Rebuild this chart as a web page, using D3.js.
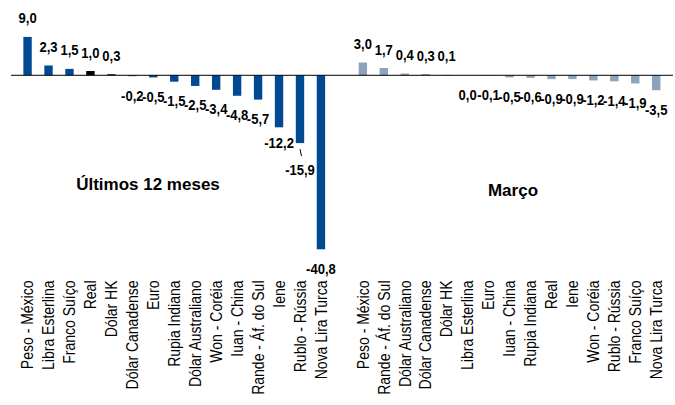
<!DOCTYPE html>
<html>
<head>
<meta charset="utf-8">
<script src="https://cdn.jsdelivr.net/npm/d3@7"></script>
<style>
  html, body { margin: 0; padding: 0; background: #fff; }
  svg { display: block; }
  text { font-family: "Liberation Sans", Arial, Helvetica, sans-serif; }
</style>
</head>
<body>
<svg id="chart" width="675" height="405"></svg>
<script>
// Variação cambial frente ao dólar (%)
const yearCategories = ["Peso - México", "Libra Esterlina", "Franco Suíço", "Real", "Dólar HK",
  "Dólar Canadense", "Euro", "Rupia Indiana", "Dólar Australiano", "Won - Coréia",
  "Iuan - China", "Rande - Áf. do Sul", "Iene", "Rublo - Rússia", "Nova Lira Turca"];
const yearValues = [9.0, 2.3, 1.5, 1.0, 0.3, -0.2, -0.5, -1.5, -2.5, -3.4, -4.8, -5.7, -12.2, -15.9, -40.8];

const monthCategories = ["Peso - México", "Rande - Áf. do Sul", "Dólar Australiano", "Dólar Canadense",
  "Dólar HK", "Libra Esterlina", "Euro", "Iuan - China", "Rupia Indiana", "Real", "Iene",
  "Won - Coréia", "Rublo - Rússia", "Franco Suíço", "Nova Lira Turca"];
const monthValues = [3.0, 1.7, 0.4, 0.3, 0.1, 0.0, -0.1, -0.5, -0.6, -0.9, -0.9, -1.2, -1.4, -1.9, -3.5];

const groupTitles = ["Últimos 12 meses", "Março"];

const colors = { year: "#004a93", month: "#8da3bc", highlight: "#000000" };

// one slot per bar, with an empty slot between the two groups
const rows = [
  ...yearCategories.map((c, i) => ({ key: "a" + i, name: c, value: yearValues[i], group: "year" })),
  { key: "gap", name: "", value: null, group: null },
  ...monthCategories.map((c, i) => ({ key: "b" + i, name: c, value: monthValues[i], group: "month" }))
];

const svg = d3.select("#chart");

const x = d3.scaleBand()
  .domain(rows.map(d => d.key))
  .range([10.8, 673])
  .padding(0.6);

const y = d3.scaleLinear()
  .domain([-45, 10])
  .range([267.2, 32.65]);

const fmt = v => d3.format(".1f")(v).replace("−", "-").replace(".", ",");

const bars = rows.filter(d => d.value !== null);

// bars
svg.append("g")
  .selectAll("rect")
  .data(bars)
  .join("rect")
  .attr("x", d => x(d.key))
  .attr("width", x.bandwidth())
  .attr("y", d => y(Math.max(0, d.value)))
  .attr("height", d => Math.abs(y(d.value) - y(0)))
  .attr("fill", d => (d.group === "year" && d.name === "Real") ? colors.highlight : colors[d.group]);

// zero line
svg.append("line")
  .attr("x1", 11).attr("x2", 673)
  .attr("y1", y(0)).attr("y2", y(0))
  .attr("stroke", "#000")
  .attr("stroke-width", 1);

// value labels: above positive bars, below zero and negative ones (slightly condensed)
const nudge = { "a12": -4, "a13": 7 };
svg.append("g")
  .selectAll("text")
  .data(bars)
  .join("text")
  .attr("transform", d => {
    const lx = x(d.key) + x.bandwidth() / 2;
    const ly = (d.value > 0 ? y(d.value) - 13.5 : y(d.value) + 24.5) + (nudge[d.key] || 0);
    return `translate(${lx},${ly}) scale(0.9,1)`;
  })
  .attr("text-anchor", "middle")
  .attr("font-size", "14.5px")
  .attr("font-weight", "bold")
  .attr("fill", "#000")
  .text(d => fmt(d.value));

// leader line for the displaced label
const rublo = bars.find(d => d.key === "a13");
svg.append("line")
  .attr("x1", x(rublo.key) + x.bandwidth() / 2)
  .attr("x2", x(rublo.key) + x.bandwidth() / 2 + 1.5)
  .attr("y1", y(rublo.value) + 6)
  .attr("y2", y(rublo.value) + 13)
  .attr("stroke", "#000")
  .attr("stroke-width", 1);

// category axis with vertical, condensed labels
const axis = d3.axisBottom(x)
  .tickSize(0)
  .tickFormat(k => rows.find(r => r.key === k).name);

const gAxis = svg.append("g")
  .attr("transform", "translate(0,280.5)")
  .call(axis);
gAxis.select(".domain").remove();
gAxis.selectAll("text")
  .attr("transform", "rotate(-90) scale(1,1.14)")
  .attr("x", 0)
  .attr("y", 0)
  .attr("dy", "0.36em")
  .attr("text-anchor", "end")
  .attr("font-size", "14px")
  .attr("font-family", "'Liberation Sans', Arial, sans-serif")
  .attr("fill", "#000");

// group titles
const titlePos = [
  { text: groupTitles[0], cx: 148, base: 190 },
  { text: groupTitles[1], cx: 513, base: 196 }
];
svg.append("g")
  .selectAll("text")
  .data(titlePos)
  .join("text")
  .attr("x", d => d.cx)
  .attr("y", d => d.base)
  .attr("text-anchor", "middle")
  .attr("font-size", "17px")
  .attr("font-weight", "bold")
  .attr("fill", "#000")
  .text(d => d.text);
</script>
</body>
</html>
